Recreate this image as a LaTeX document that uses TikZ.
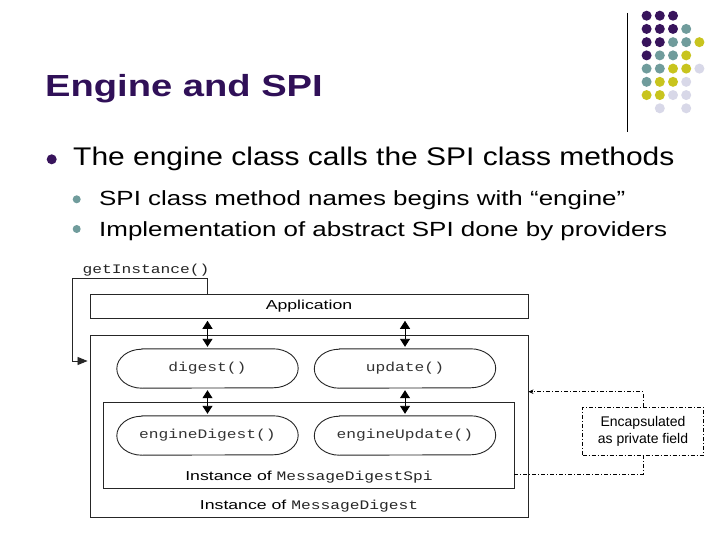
\documentclass[tikz,border=0pt]{standalone}
\usepackage{fontspec}
\setmainfont{Liberation Sans}
\newfontfamily\ttlfont[FakeStretch=1.25]{Liberation Sans}
\newfontfamily\bodyfont[FakeStretch=1.175]{Liberation Sans}
\newfontfamily\subfont[FakeStretch=1.265]{Liberation Sans}
\newfontfamily\dsans[FakeStretch=1.36]{Liberation Sans}
\newfontfamily\dmono[FakeStretch=1.25]{Liberation Mono}
\usetikzlibrary{arrows.meta}
\definecolor{ttl}{RGB}{48,16,88}
\definecolor{dP}{RGB}{56,20,92}
\definecolor{dT}{RGB}{112,156,156}
\definecolor{dY}{RGB}{200,196,30}
\definecolor{dL}{RGB}{216,216,232}
\newcommand{\stadium}[1]{\draw[dline] ([xshift=25bp]#1.north west) -- ([xshift=-25bp]#1.north east) arc[start angle=-90,end angle=90,x radius=25,y radius=19.5] -- ([xshift=25bp]#1.south west) arc[start angle=90,end angle=270,x radius=25,y radius=19.5] -- cycle;}
\newcommand{\dsz}{\fontsize{13bp}{15bp}\selectfont}
\tikzset{
  dline/.style={draw=black!85, line width=0.9bp},
  boxn/.style={dline, inner sep=0pt, fill=white},
  stad/.style={inner sep=0pt, minimum width=181bp, minimum height=39bp, font=\dmono\dsz, text=black!80},
  darr/.style={line width=0.9bp, {Triangle[length=8bp,width=10bp]}-{Triangle[length=8bp,width=10bp]}, shorten <=2bp, shorten >=2bp},
  dd/.style={line width=0.8bp, dash pattern=on 4bp off 2bp on 1bp off 2bp},
  txt/.style={inner sep=0pt, anchor=base west}
}
\begin{document}
\begin{tikzpicture}[x=1bp,y=-1bp]
\useasboundingbox (0,0) rectangle (720,540);
\fill[white] (0,0) rectangle (720,540);
% decoration
\draw[line width=1bp] (627,13) -- (627,132);
\foreach \row/\cols in {0/{P,P,P,N,N},1/{P,P,P,T,N},2/{P,P,T,T,Y},3/{P,T,T,Y,N},4/{T,T,Y,Y,L},5/{T,Y,Y,L,N},6/{Y,Y,L,L,N},7/{N,L,N,L,N}}{
  \foreach \c [count=\i from 0] in \cols {
    \if\c N\else
      \fill[d\c] (646.6+13.2*\i, 15.7+13.23*\row) circle[radius=5];
    \fi
  }
}
% title and bullets
\node[txt, text=ttl, font=\ttlfont\bfseries\fontsize{30.5bp}{36bp}\selectfont] (title) at (45,96.3) {Engine and SPI};
\fill[dP] (51.7,159.3) circle[radius=5];
\node[txt, font=\bodyfont\fontsize{25.5bp}{30bp}\selectfont] (b1) at (73,166) {The engine class calls the SPI class methods};
\fill[dT] (76.7,199.3) circle[radius=4];
\node[txt, font=\subfont\fontsize{20.5bp}{25bp}\selectfont] (b2) at (99,206) {SPI class method names begins with “engine”};
\fill[dT] (76.7,229) circle[radius=4];
\node[txt, font=\subfont\fontsize{20.5bp}{25bp}\selectfont] (b3) at (99,236.5) {Implementation of abstract SPI done by providers};
% diagram
\node[boxn, minimum width=438bp, minimum height=182bp] (outer) at (309,426) {};
\node[boxn, minimum width=438bp, minimum height=24.3bp, font=\dsans\dsz] (app) at (309,306.2) {Application};
\node[boxn, minimum width=411bp, minimum height=85.6bp] (inner) at (308.5,445.5) {};
\node[stad] (dig) at (207.5,368.5) {digest()};
\node[stad] (upd) at (405,368.5) {update()};
\node[stad] (edig) at (207.5,435.5) {engineDigest()};
\node[stad] (eupd) at (405,435.5) {engineUpdate()};
\stadium{dig}\stadium{upd}\stadium{edig}\stadium{eupd}
\node[inner sep=0pt, anchor=base, font=\dsz] (lspi) at (309,480) {{\dsans Instance of }{\dmono\color{black!85}MessageDigestSpi}};
\node[inner sep=0pt, anchor=base, font=\dsz] (lmd) at (309,509) {{\dsans Instance of }{\dmono\color{black!85}MessageDigest}};
\node[inner sep=0pt, anchor=base, font=\dmono\dsz, text=black!85] (gtxt) at (146,273.3) {getInstance()};
\draw[darr] (dig.north |- app.south) -- (dig.north);
\draw[darr] (upd.north |- app.south) -- (upd.north);
\draw[darr] (dig.south) -- (edig.north);
\draw[darr] (upd.south) -- (eupd.north);
\coordinate (gi) at (72.7,278);
\coordinate (gb) at (72.7,361);
\draw[dline, -{Triangle[length=10bp,width=8bp]}, shorten >=2bp] (dig.north |- app.north) -- (dig.north |- gi) -- (gi) -- (gb) -- (gb -| outer.west);
% encapsulated
\node[dd, draw, inner sep=0pt, minimum width=120.6bp, minimum height=48bp, align=center, font=\fontsize{14bp}{17bp}\selectfont] (enc) at (643,431) {Encapsulated\\as private field};
\coordinate (c1) at (0,391.7);
\coordinate (c2) at (0,474);
\draw[dd, -{Stealth[length=5bp,width=4.5bp]}] (enc.north) |- (outer.east |- c1);
\draw[dd] (enc.south) |- (inner.east |- c2);
\end{tikzpicture}
\end{document}
